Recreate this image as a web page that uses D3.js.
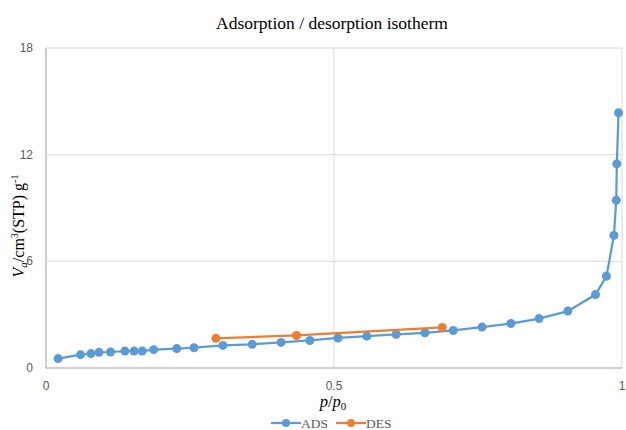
<!DOCTYPE html>
<html>
<head>
<meta charset="utf-8">
<script src="https://cdn.jsdelivr.net/npm/d3@7"></script>
<style>
  body { margin: 0; background: #fff; }
  svg { display: block; }
</style>
</head>
<body>
<div id="chart"></div>
<script>
// adsorption branch (p/p0, Va)
const adsP = [0.021, 0.060, 0.078, 0.092, 0.112, 0.137, 0.153, 0.167, 0.187, 0.227, 0.257, 0.307, 0.358, 0.408, 0.458, 0.507,
              0.557, 0.608, 0.658, 0.707, 0.757, 0.807, 0.856, 0.906, 0.954, 0.973, 0.986, 0.990, 0.991, 0.994];
const adsV = [0.53, 0.75, 0.81, 0.88, 0.90, 0.95, 0.95, 0.95, 1.03, 1.09, 1.14, 1.27, 1.33, 1.44, 1.55, 1.69,
              1.79, 1.89, 1.98, 2.11, 2.30, 2.50, 2.78, 3.20, 4.13, 5.16, 7.46, 9.44, 11.48, 14.36];
// desorption branch
const desP = [0.295, 0.435, 0.688];
const desV = [1.67, 1.83, 2.28];

const xTicks = [0, 0.5, 1];
const xTickLabels = ["0", "0.5", "1"];
const yTicks = [0, 6, 12, 18];

const seriesNames = ["ADS", "DES"];
const seriesColors = ["#5b9bd5", "#ed7d31"];

const width = 626, height = 430;
const margin = {top: 48, right: 4, bottom: 62, left: 46};

const svg = d3.select("#chart").append("svg")
  .attr("width", width)
  .attr("height", height);

const x = d3.scaleLinear().domain([0, 1]).range([margin.left, width - margin.right]);
const y = d3.scaleLinear().domain([0, 18]).range([height - margin.bottom, margin.top]);

//gridlines
svg.append("g")
  .selectAll("line")
  .data(yTicks.filter(d => d > 0))
  .enter().append("line")
  .attr("x1", x(0)).attr("x2", x(1))
  .attr("y1", d => y(d)).attr("y2", d => y(d))
  .attr("stroke", "#d9d9d9").attr("stroke-width", 1);

svg.append("g")
  .selectAll("line")
  .data(xTicks.filter(d => d > 0))
  .enter().append("line")
  .attr("x1", d => x(d)).attr("x2", d => x(d))
  .attr("y1", y(0)).attr("y2", y(18))
  .attr("stroke", "#d9d9d9").attr("stroke-width", 1);

//axis lines (left + bottom)
svg.append("line")
  .attr("x1", x(0)).attr("x2", x(0)).attr("y1", y(0)).attr("y2", y(18))
  .attr("stroke", "#bfbfbf").attr("stroke-width", 1.5);
svg.append("line")
  .attr("x1", x(0)).attr("x2", x(1)).attr("y1", y(0)).attr("y2", y(0))
  .attr("stroke", "#bfbfbf").attr("stroke-width", 1.5);

//tick labels
svg.append("g")
  .selectAll("text")
  .data(yTicks)
  .enter().append("text")
  .attr("x", 33).attr("y", d => y(d) + 4)
  .attr("text-anchor", "end")
  .attr("font-family", "Liberation Sans, Arial, sans-serif")
  .attr("font-size", 12).attr("fill", "#595959")
  .text(d => d);

svg.append("g")
  .selectAll("text")
  .data(xTicks)
  .enter().append("text")
  .attr("x", d => x(d)).attr("y", 390)
  .attr("text-anchor", "middle")
  .attr("font-family", "Liberation Sans, Arial, sans-serif")
  .attr("font-size", 12).attr("fill", "#595959")
  .text((d, i) => xTickLabels[i]);

//title
svg.append("text")
  .attr("x", 332).attr("y", 29)
  .attr("text-anchor", "middle")
  .attr("font-family", "Liberation Serif, Times New Roman, serif")
  .attr("font-size", 17.5).attr("fill", "#000")
  .text("Adsorption / desorption isotherm");

//x axis title p/p0
const xt = svg.append("text")
  .attr("x", 333).attr("y", 407)
  .attr("text-anchor", "middle")
  .attr("font-family", "Liberation Serif, Times New Roman, serif")
  .attr("font-size", 16.5).attr("fill", "#000");
xt.append("tspan").attr("font-style", "italic").text("p");
xt.append("tspan").text("/");
xt.append("tspan").attr("font-style", "italic").text("p");
xt.append("tspan").attr("font-size", 11).attr("dy", 3).text("0");

//y axis title
const yt = svg.append("text")
  .attr("transform", "translate(24," + 226 + ") rotate(-90)")
  .attr("text-anchor", "middle")
  .attr("font-family", "Liberation Serif, Times New Roman, serif")
  .attr("font-size", 16).attr("fill", "#000");
yt.append("tspan").attr("font-style", "italic").text("V");
yt.append("tspan").attr("font-style", "italic").attr("font-size", 11).attr("dy", 3).text("a");
yt.append("tspan").attr("dy", -3).text("/cm");
yt.append("tspan").attr("font-size", 10).attr("dy", -6).text("3");
yt.append("tspan").attr("dy", 6).text("(STP) g");
yt.append("tspan").attr("font-size", 10).attr("dy", -6).text("-1");

//series
const series = [
  adsP.map((p, i) => ({p: p, v: adsV[i]})),
  desP.map((p, i) => ({p: p, v: desV[i]}))
];

const line = d3.line().x(d => x(d.p)).y(d => y(d.v));

series.forEach((s, k) => {
  svg.append("path")
    .datum(s)
    .attr("d", line)
    .attr("fill", "none")
    .attr("stroke", seriesColors[k])
    .attr("stroke-width", 2.25);
  svg.append("g")
    .selectAll("circle")
    .data(s)
    .enter().append("circle")
    .attr("cx", d => x(d.p))
    .attr("cy", d => y(d.v))
    .attr("r", 4.5)
    .attr("fill", seriesColors[k]);
});

//legend
const legendX = [271, 336];
const leg = svg.append("g")
  .selectAll("g")
  .data(seriesNames)
  .enter().append("g")
  .attr("transform", (d, i) => "translate(" + legendX[i] + ",423)");
leg.append("line")
  .attr("x1", 0).attr("x2", 30).attr("y1", 0).attr("y2", 0)
  .attr("stroke", (d, i) => seriesColors[i]).attr("stroke-width", 2.25);
leg.append("circle")
  .attr("cx", 15).attr("cy", 0).attr("r", 4)
  .attr("fill", (d, i) => seriesColors[i]);
leg.append("text")
  .attr("x", 30).attr("y", 4.5)
  .attr("font-family", "Liberation Serif, Times New Roman, serif")
  .attr("font-size", 13.5).attr("fill", "#595959")
  .text(d => d);
</script>
</body>
</html>
